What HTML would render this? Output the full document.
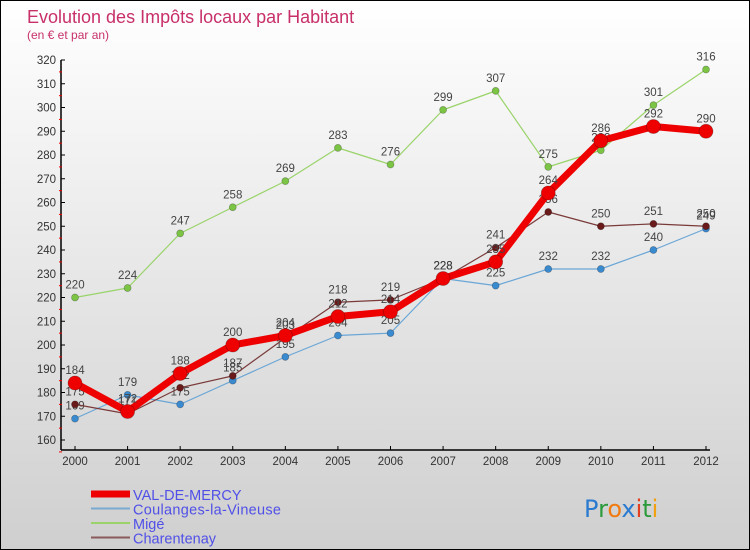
<!DOCTYPE html>
<html><head><meta charset="utf-8"><style>
html,body{margin:0;padding:0}
body{width:750px;height:550px;overflow:hidden;font-family:"Liberation Sans",sans-serif}
#wrap{position:relative;width:748px;height:548px;border:1px solid #000;background:linear-gradient(#ffffff,#cfcfcf)}
</style></head><body>
<div id="wrap">
<svg id="chart" width="748" height="548" style="position:absolute;left:0;top:0"></svg>
</div>
<script>
const years=["2000","2001","2002","2003","2004","2005","2006","2007","2008","2009","2010","2011","2012"];
const yTicks=[160,170,180,190,200,210,220,230,240,250,260,270,280,290,300,310,320];
const valDeMercy=[184,172,188,200,204,212,214,228,235,264,286,292,290];
const coulanges=[169,179,175,185,195,204,205,228,225,232,232,240,249];
const mige=[220,224,247,258,269,283,276,299,307,275,282,301,316];
const charentenay=[175,171,182,187,203,218,219,228,241,256,250,251,250];
const seriesNames=["VAL-DE-MERCY","Coulanges-la-Vineuse","Migé","Charentenay"];

const NS="http://www.w3.org/2000/svg";
const svg=document.getElementById('chart');
function X(i){return 74+i*(705-74)/12;}
function Y(v){return 439-(v-160)*(380/160);}
function mk(tag,attrs,parent){const e=document.createElementNS(NS,tag);for(const k in attrs)e.setAttribute(k,attrs[k]);(parent||svg).appendChild(e);return e;}
function txt(x,y,s,attrs){const t=mk('text',Object.assign({x:x,y:y},attrs));t.textContent=s;return t;}

let t=txt(26,22,"Evolution des Impôts locaux par Habitant",{'font-size':18,fill:'#c8306a'});


t=txt(26,38,"(en € et par an)",{'font-size':12,fill:'#c8306a'});



// axes
let a=mk('line',{x1:60,y1:Y(320),x2:60,y2:449,stroke:'#000','stroke-width':1.5});


a=mk('line',{x1:60,y1:449,x2:X(12)+4,y2:449,stroke:'#000','stroke-width':1.5});


yTicks.forEach(v=>{
  mk('line',{x1:60,y1:Y(v),x2:64,y2:Y(v),stroke:'#000'});
  mk('line',{x1:58,y1:Y(v)+11.9,x2:61,y2:Y(v)+11.9,stroke:'#e00'});
  const l=txt(55,Y(v)+4,String(v),{'font-size':11.5,fill:'#333','text-anchor':'end'});
  
  
});
years.forEach((y,i)=>{
  mk('line',{x1:X(i),y1:445,x2:X(i),y2:449,stroke:'#000'});
  const l=txt(X(i),464,y,{'font-size':11.5,fill:'#333','text-anchor':'middle'});
  
  
});

function series(data,color,dot,w,r,name,labels){
  const g=mk('g',{});
  
  
  mk('polyline',{points:data.map((v,i)=>X(i)+','+Y(v)).join(' '),fill:'none',stroke:color,'stroke-width':w,'stroke-linejoin':'round'},g);
  data.forEach((v,i)=>{
    const c=mk('circle',{cx:X(i),cy:Y(v),r:r,fill:dot,stroke:'rgba(0,0,0,0.3)','stroke-width':0.7},g);
    
    
  });
  data.forEach((v,i)=>{
    const l=txt(X(i),Y(v)-9,String(v),{'font-size':11.5,fill:'#444','text-anchor':'middle'},g);
    
    
  });
}
series(mige,'#9ad36a','#7cc444',1.2,3.5,'series-mige');
series(coulanges,'#6aa6d6','#3a8ad0',1.2,3.5,'series-coulanges');
series(charentenay,'#7a3a3a','#6a1a1a',1.2,3.5,'series-charentenay');
series(valDeMercy,'#ee0000','#ee0000',7,7,'series-val-de-mercy');

// legend
const legColors=['#ee0000','#7aaad0','#9ad36a','#8a5a5a'];
const legW=[7,2,2,2];
seriesNames.forEach((n,i)=>{
  const y=493+i*14.5;
  const g=mk('g',{});
  
  
  mk('line',{x1:90,y1:y,x2:129,y2:y,stroke:legColors[i],'stroke-width':legW[i]},g);
  txt(132,y+6,n,{'font-size':14.5,fill:'#5050e8','textLength':n.length>15?148:undefined},g);
});
const logo=mk('text',{x:583,y:516,'font-size':24,'font-family':'"DejaVu Sans",sans-serif'});


[['P','#2a7ad0'],['r','#2a9a3a'],['o','#f07a10'],['x','#2a7ad0'],['i','#e04020'],['t','#2a9a3a'],['i','#f0a010']].forEach(([c,col])=>{
  const s=mk('tspan',{fill:col},logo);s.textContent=c;
});
</script>
</body></html>
